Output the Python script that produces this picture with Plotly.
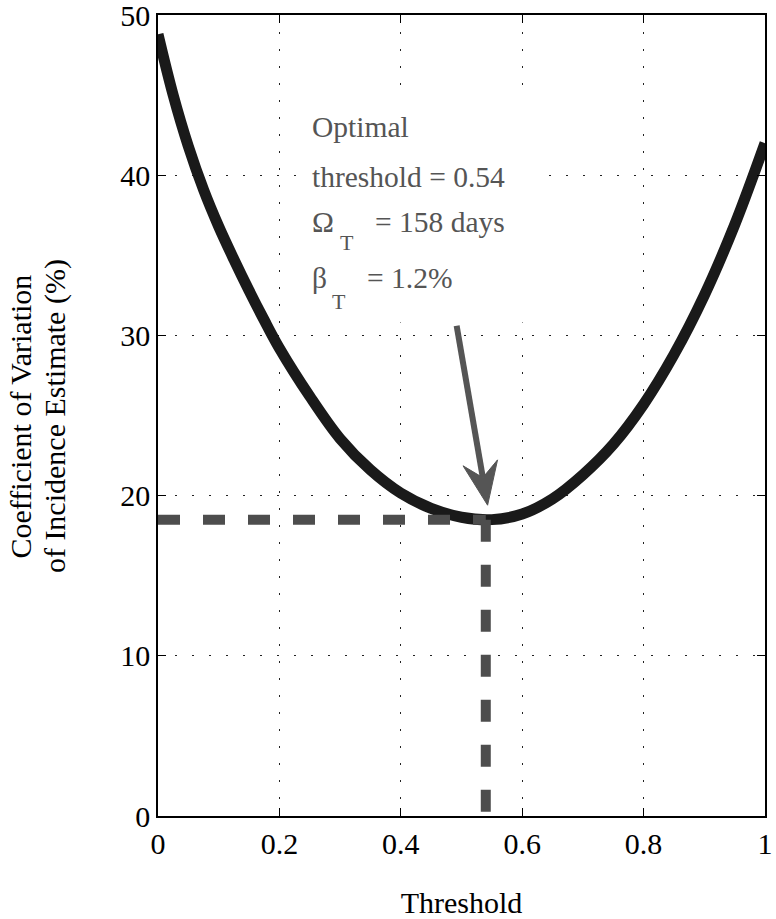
import math
import plotly.graph_objects as go

# ---------------- data ----------------
threshold = [0, 0.025, 0.05, 0.075, 0.1, 0.125, 0.15, 0.175, 0.2, 0.25, 0.3,
             0.35, 0.4, 0.45, 0.5, 0.55, 0.6, 0.65, 0.7, 0.75, 0.8, 0.85,
             0.9, 0.95, 1.0]
cv_percent = [48.8, 45.0, 41.8, 39.1, 36.8, 34.75, 32.8, 30.95, 29.2, 26.2, 23.55,
              21.6, 20.15, 19.2, 18.65, 18.5, 18.85, 19.8, 21.3, 23.2, 25.7, 28.8,
              32.5, 36.9, 42.0]

opt_threshold = 0.54
opt_cv = 18.5
arrow_tail = (0.492, 30.6)
arrow_tip = (0.543, 19.4)

x_ticks = [0, 0.2, 0.4, 0.6, 0.8, 1]
x_ticktext = ["0", "0.2", "0.4", "0.6", "0.8", "1"]
y_ticks = [0, 10, 20, 30, 40, 50]
y_ticktext = ["0", "10", "20", "30", "40", "50"]

x_title = "Threshold"
y_title_lines = ["Coefficient of Variation", "of Incidence Estimate (%)"]

# ---------------- layout constants ----------------
W, H = 776, 919
ML, MR, MT, MB = 158, 11, 15, 103
X_RANGE = [0, 1]
Y_RANGE = [0, 50]
FONT = "Liberation Serif, Times New Roman, serif"
TXT_GRAY = "#555555"
DASH_GRAY = "#4d4d4d"

plot_w = W - ML - MR
plot_h = H - MT - MB
sx = plot_w / (X_RANGE[1] - X_RANGE[0])
sy = plot_h / (Y_RANGE[1] - Y_RANGE[0])

fig = go.Figure()

# main curve
fig.add_trace(go.Scatter(
    x=threshold, y=cv_percent, mode="lines",
    line=dict(color="#1a1a1a", width=11, shape="spline", smoothing=1.0),
    hoverinfo="skip", showlegend=False))

# optimum dashed guides
fig.add_trace(go.Scatter(
    x=[X_RANGE[0], opt_threshold], y=[opt_cv, opt_cv], mode="lines",
    line=dict(color=DASH_GRAY, width=10, dash="22px,23px"),
    hoverinfo="skip", showlegend=False))
fig.add_trace(go.Scatter(
    x=[opt_threshold, opt_threshold], y=[opt_cv, Y_RANGE[0]], mode="lines",
    line=dict(color=DASH_GRAY, width=10, dash="22px,23px"),
    hoverinfo="skip", showlegend=False))

# ---------------- arrow (shaft + notched head) ----------------
tx, ty = arrow_tail[0] * sx, -arrow_tail[1] * sy
hx, hy = arrow_tip[0] * sx, -arrow_tip[1] * sy
L = math.hypot(hx - tx, hy - ty)
ux, uy = (hx - tx) / L, (hy - ty) / L
px_, py_ = -uy, ux
head_len, head_half, notch = 43, 17.5, 28


def to_data(pxv, pyv):
    return pxv / sx, -pyv / sy


left = to_data(hx - head_len * ux + head_half * px_, hy - head_len * uy + head_half * py_)
right = to_data(hx - head_len * ux - head_half * px_, hy - head_len * uy - head_half * py_)
npt = to_data(hx - notch * ux, hy - notch * uy)
tip = to_data(hx, hy)

shapes = [
    # white box behind the text block (hides grid)
    dict(type="rect", xref="x", yref="y", layer="between",
         x0=0.231, x1=0.638, y0=30.8, y1=45.0,
         fillcolor="white", line=dict(width=0)),
    dict(type="line", xref="x", yref="y",
         x0=arrow_tail[0], y0=arrow_tail[1], x1=npt[0], y1=npt[1],
         line=dict(color=TXT_GRAY, width=6)),
    dict(type="path", xref="x", yref="y",
         path=f"M{tip[0]},{tip[1]} L{left[0]},{left[1]} L{npt[0]},{npt[1]} L{right[0]},{right[1]} Z",
         fillcolor=TXT_GRAY, line=dict(color=TXT_GRAY, width=1)),
]


# ---------------- text annotations ----------------
def txt(x, y, s, size=29.5):
    return dict(x=x, y=y, xref="x", yref="y", text=s, showarrow=False,
                xanchor="left", yanchor="middle",
                font=dict(family=FONT, size=size, color=TXT_GRAY))


annotations = [
    txt(0.250, 43.0, "Optimal"),
    txt(0.250, 39.9, f"threshold = {opt_threshold}"),
    txt(0.250, 37.1, "Ω"),
    txt(0.297, 35.8, "T", 22),
    txt(0.354, 37.1, "= 158 days"),
    txt(0.250, 33.6, "β"),
    txt(0.283, 32.1, "T", 22),
    txt(0.341, 33.6, "= 1.2%"),
]
for xp, line in zip([-0.227, -0.170], y_title_lines):
    annotations.append(dict(
        x=xp, y=0.499, xref="paper", yref="paper", text=line,
        showarrow=False, textangle=-90, xanchor="center", yanchor="middle",
        font=dict(family=FONT, size=30, color="black")))

axis_common = dict(
    showline=True, linecolor="black", linewidth=1.5, mirror="ticks",
    ticks="inside", ticklen=8, tickwidth=1.2, tickcolor="black",
    showgrid=True, gridcolor="#222222", gridwidth=1.2, griddash="2px,15px",
    zeroline=False, ticklabeloverflow="allow", automargin=False,
    tickfont=dict(family=FONT, size=30, color="black"),
)

fig.update_layout(
    width=W, height=H,
    margin=dict(l=ML, r=MR, t=MT, b=MB, autoexpand=False),
    paper_bgcolor="white", plot_bgcolor="white",
    showlegend=False,
    xaxis=dict(range=X_RANGE, tickvals=x_ticks, ticktext=x_ticktext,
               title=dict(text=x_title, font=dict(family=FONT, size=30, color="black"),
                          standoff=36),
               **axis_common),
    yaxis=dict(range=Y_RANGE, tickvals=y_ticks, ticktext=y_ticktext,
               **axis_common),
    shapes=shapes,
    annotations=annotations,
)

fig.write_html("out.html",
               config={"displayModeBar": False},
               post_script="document.body.style.margin='0';document.body.style.padding='0';")
